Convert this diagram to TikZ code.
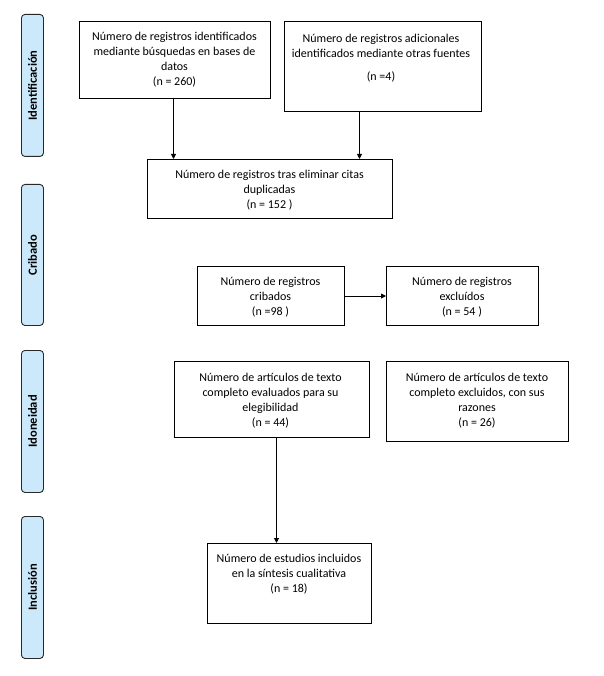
\documentclass[tikz,border=0pt]{standalone}
\usepackage{fontspec}
\setmainfont{Carlito}
\usetikzlibrary{arrows.meta}
\definecolor{barfill}{RGB}{204,233,251}
\definecolor{barline}{RGB}{40,40,40}
\tikzset{
  box/.style={draw=black, line width=1pt, inner sep=0pt, anchor=north west},
  txt/.style={align=center, inner sep=0pt, font=\fontsize{12}{15}\selectfont},
  bar/.style={draw=barline, fill=barfill, line width=0.9pt, rounded corners=3.5pt, inner sep=0pt, anchor=north west, minimum width=22pt},
  barlabel/.style={rotate=90, inner sep=0pt, font=\fontsize{12.5}{14}\selectfont\bfseries},
  arr/.style={line width=0.9pt, -{Triangle[length=5pt,width=5pt]}}
}
\begin{document}
\begin{tikzpicture}[x=1pt,y=-1pt]
\useasboundingbox (0,0) rectangle (603,676);
% side bars
\node[bar, minimum height=142pt] (b1) at (21,14) {};
\node[barlabel] (l1) at (b1.center) {Identificación};
\node[bar, minimum height=141pt] (b2) at (21,184) {};
\node[barlabel] (l2) at (b2.center) {Cribado};
\node[bar, minimum height=142pt] (b3) at (21,350) {};
\node[barlabel] (l3) at (b3.center) {Idoneidad};
\node[bar, minimum height=142pt] (b4) at (21,516) {};
\node[barlabel] (l4) at (b4.center) {Inclusión};
% boxes
\node[box, minimum width=191pt, minimum height=77pt] (A) at (79,21) {};
\node[txt] (tA) at (174.5,59.5) {Número de registros identificados\\mediante búsquedas en bases de\\datos\\(n = 260)};
\node[box, minimum width=197pt, minimum height=90pt] (B) at (284,21) {};
\node[txt] (tB) at (381,58.5) {Número de registros adicionales\\identificados mediante otras fuentes\\[8pt](n =4)};
\node[box, minimum width=245pt, minimum height=59pt] (C) at (147,159) {};
\node[txt] (tC) at (269.5,190) {Número de registros tras eliminar citas\\duplicadas\\(n = 152 )};
\node[box, minimum width=147pt, minimum height=59pt] (D) at (197,266) {};
\node[txt] (tD) at (270.5,297.5) {Número de registros\\cribados\\(n =98 )};
\node[box, minimum width=152pt, minimum height=59pt] (E) at (386,266) {};
\node[txt] (tE) at (462,297.5) {Número de registros\\excluídos\\(n = 54 )};
\node[box, minimum width=195pt, minimum height=76pt] (F) at (174,361) {};
\node[txt] (tF) at (270.5,400.5) {Número de artículos de texto\\completo evaluados para su\\elegibilidad\\(n = 44)};
\node[box, minimum width=182pt, minimum height=80pt] (G) at (386,361) {};
\node[txt] (tG) at (477,400.5) {Número de artículos de texto\\completo excluidos, con sus\\razones\\(n = 26)};
\node[box, minimum width=164pt, minimum height=80pt] (H) at (207,543) {};
\node[txt] (tH) at (289,574.5) {Número de estudios incluidos\\en la síntesis cualitativa\\(n = 18)};
% arrows
\draw[arr] ([xshift=-1.5pt]A.south) -- ([xshift=-1.5pt]A.south |- C.north);
\draw[arr] ([xshift=-23.5pt]B.south) -- ([xshift=-23.5pt]B.south |- C.north);
\draw[arr] (D.east) -- (E.west);
\draw[arr] ([xshift=4.5pt]F.south) -- ([xshift=4.5pt]F.south |- H.north);
\end{tikzpicture}
\end{document}
